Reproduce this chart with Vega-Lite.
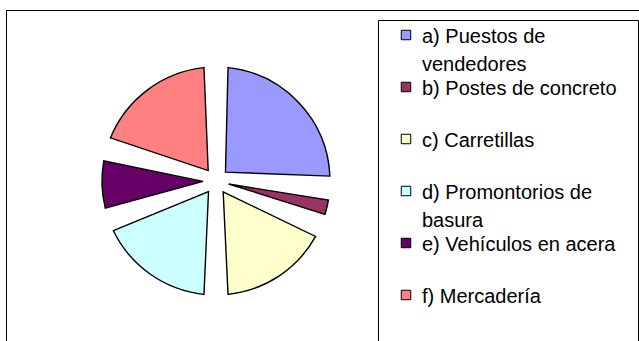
{
  "$schema": "https://vega.github.io/schema/vega-lite/v6.json",
  "width": 420,
  "height": 342,
  "autosize": {"type": "none"},
  "padding": {"left": 6, "top": 10, "right": 213, "bottom": -11},
  "background": "white",
  "view": {"stroke": "black", "strokeWidth": 1, "strokeDash": [420, 762, 342, 0]},
  "data": {
    "values": [
      {"item": "a) Puestos de vendedores", "value": 26.0},
      {"item": "b) Postes de concreto", "value": 5.4},
      {"item": "c) Carretillas", "value": 18.6},
      {"item": "d) Promontorios de basura", "value": 19.5},
      {"item": "e) Vehículos en acera", "value": 10.0},
      {"item": "f) Mercadería", "value": 20.5}
    ]
  },
  "layer": [
    {
      "mark": {"type": "arc", "outerRadius": 114, "innerRadius": 13, "padAngle": 0.21, "stroke": "black", "strokeWidth": 1.4},
      "encoding": {
        "theta": {"field": "value", "type": "quantitative", "stack": true},
        "order": {"field": "item", "type": "ordinal", "sort": "ascending"},
        "color": {
          "field": "item",
          "type": "nominal",
          "scale": {
            "domain": ["a) Puestos de vendedores", "b) Postes de concreto", "c) Carretillas", "d) Promontorios de basura", "e) Vehículos en acera", "f) Mercadería"],
            "range": ["#9999FF", "#993366", "#FFFFCC", "#CCFFFF", "#660066", "#FF8080"]
          },
          "legend": {
            "title": [" ", " "],
            "titleOrient": "right",
            "titleFontSize": 20,
            "titleLineHeight": 330,
            "titlePadding": 16,
            "orient": "none",
            "legendX": 372,
            "legendY": 10,
            "strokeColor": "black",
            "fillColor": "white",
            "padding": 5,
            "symbolType": "square",
            "symbolSize": 90,
            "symbolStrokeColor": "black",
            "symbolStrokeWidth": 1,
            "symbolOffset": 13,
            "labelFont": "Liberation Sans",
            "labelFontSize": 20,
            "labelColor": "black",
            "labelOffset": 6,
            "labelBaseline": "top",
            "labelLimit": 400,
            "gridAlign": "all",
            "rowPadding": 2,
            "labelExpr": "datum.label == 'a) Puestos de vendedores' ? ['a) Puestos de', 'vendedores'] : datum.label == 'd) Promontorios de basura' ? ['d) Promontorios de', 'basura'] : datum.label",
            "encode": {"labels": {"update": {"dy": {"value": -8}, "lineHeight": {"value": 28}}}}
          }
        }
      }
    },
    {
      "mark": {"type": "rule", "opacity": 0},
      "encoding": {
        "x": {
          "field": "value",
          "type": "quantitative",
          "aggregate": "sum",
          "scale": {"domain": [0, 200], "range": [0, 633]},
          "axis": {"orient": "top", "domain": true, "domainColor": "black", "domainWidth": 1, "ticks": false, "labels": false, "grid": false, "title": null}
        }
      }
    }
  ]
}
